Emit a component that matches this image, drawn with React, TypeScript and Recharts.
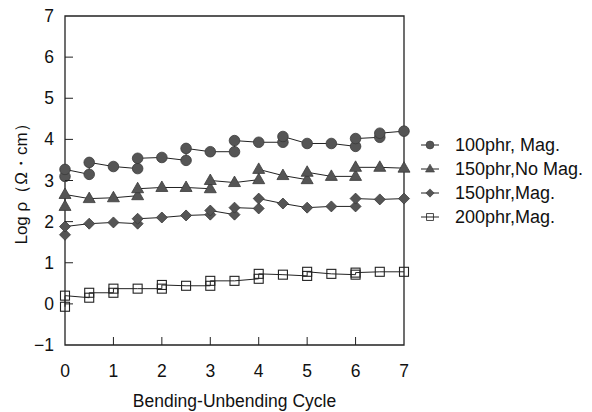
import React from 'react';
import { LineChart, Line, XAxis, YAxis, ReferenceArea, Legend } from 'recharts';

// cycle positions and log resistivity (jumps shown as two points at one x)
const mag100X = [0, 0, 0.5, 0.5, 1, 1.5, 1.5, 2, 2.5, 2.5, 3, 3.5, 3.5, 4, 4.5, 4.5, 5, 5.5, 6, 6, 6.5, 6.5, 7];
const mag100Y = [3.1, 3.27, 3.15, 3.44, 3.34, 3.29, 3.54, 3.56, 3.49, 3.78, 3.7, 3.7, 3.97, 3.93, 3.93, 4.07, 3.9, 3.9, 3.83, 4.02, 4.05, 4.15, 4.2];

const noMag150X = [0, 0, 0.5, 1, 1.5, 1.5, 2, 2.5, 3, 3, 3.5, 4, 4, 4.5, 5, 5, 5.5, 6, 6, 6.5, 7];
const noMag150Y = [2.37, 2.66, 2.56, 2.58, 2.63, 2.8, 2.83, 2.83, 2.8, 3.0, 2.95, 3.02, 3.27, 3.12, 3.02, 3.2, 3.1, 3.1, 3.32, 3.32, 3.3];

const mag150X = [0, 0, 0.5, 1, 1.5, 1.5, 2, 2.5, 3, 3, 3.5, 3.5, 4, 4, 4.5, 5, 5.5, 6, 6, 6.5, 7];
const mag150Y = [1.68, 1.88, 1.95, 1.98, 1.95, 2.07, 2.1, 2.15, 2.17, 2.27, 2.17, 2.34, 2.32, 2.56, 2.44, 2.34, 2.37, 2.37, 2.56, 2.54, 2.56];

const mag200X = [0, 0, 0.5, 0.5, 1, 1, 1.5, 2, 2, 2.5, 3, 3, 3.5, 4, 4, 4.5, 5, 5, 5.5, 6, 6, 6.5, 7];
const mag200Y = [-0.07, 0.2, 0.15, 0.27, 0.27, 0.37, 0.37, 0.37, 0.46, 0.44, 0.44, 0.56, 0.56, 0.61, 0.73, 0.71, 0.68, 0.78, 0.73, 0.71, 0.76, 0.78, 0.78];

const seriesNames = ['100phr, Mag.', '150phr,No Mag.', '150phr,Mag.', '200phr,Mag.'];
const xTicks = [0, 1, 2, 3, 4, 5, 6, 7];
const yTicks = [-1, 0, 1, 2, 3, 4, 5, 6, 7];

const toPoints = (xs: number[], ys: number[]) => xs.map((x, i) => ({ x, y: ys[i] }));

const PLOT_LEFT = 65;
const PLOT_BOTTOM = 345;
const INK = '#222';
const MARK = '#555';
const FONT = '"Liberation Sans", Arial, sans-serif';

type Shape = 'circle' | 'triangle' | 'diamond' | 'square';

const Marker = ({ cx, cy, shape }: { cx: number; cy: number; shape: Shape }) => {
  if (shape === 'circle') return <circle cx={cx} cy={cy} r={5.3} fill={MARK} stroke="#3a3a3a" strokeWidth={0.8} />;
  if (shape === 'triangle')
    return <polygon points={`${cx},${cy - 6.5} ${cx + 6},${cy + 4} ${cx - 6},${cy + 4}`} fill={MARK} stroke="#3a3a3a" strokeWidth={0.8} />;
  if (shape === 'diamond')
    return <polygon points={`${cx},${cy - 5.5} ${cx + 5.5},${cy} ${cx},${cy + 5.5} ${cx - 5.5},${cy}`} fill={MARK} stroke="#3a3a3a" strokeWidth={0.8} />;
  return <rect x={cx - 4.5} y={cy - 4.5} width={9} height={9} fill="none" stroke={INK} strokeWidth={1.1} />;
};

const dotOf = (shape: Shape) => (props: any) => {
  if (props.cx == null || props.cy == null) return <g key={props.index} />;
  return <Marker key={props.index} cx={props.cx} cy={props.cy} shape={shape} />;
};

const YTick = (props: any) => {
  const { y, payload } = props;
  const v = payload.value;
  return (
    <g>
      {v > -1 && v < 7 && <line x1={PLOT_LEFT} x2={PLOT_LEFT + 8} y1={y} y2={y} stroke={INK} strokeWidth={1} />}
      <text x={PLOT_LEFT - 11} y={y} dy={6} textAnchor="end" fontSize={17.5} fontFamily={FONT} fill="#111">
        {String(v).replace('-', '\u2212')}
      </text>
    </g>
  );
};

const XTick = (props: any) => {
  const { x, payload } = props;
  const v = payload.value;
  return (
    <g>
      {v > 0 && v < 7 && <line x1={x} x2={x} y1={PLOT_BOTTOM} y2={PLOT_BOTTOM - 8} stroke={INK} strokeWidth={1} />}
      <text x={x} y={377} textAnchor="middle" fontSize={17.5} fontFamily={FONT} fill="#111">
        {v}
      </text>
    </g>
  );
};

const YTitle = () => (
  <text transform="translate(27,180) rotate(-90)" textAnchor="middle" fontSize={17} fontFamily={FONT} fill="#111">
    Log ρ（Ω・cm）
  </text>
);

const shapes: Shape[] = ['circle', 'triangle', 'diamond', 'square'];

const LegendBox = () => (
  <div style={{ fontFamily: FONT, fontSize: 18, color: '#111' }}>
    {seriesNames.map((name, i) => (
      <div key={name} style={{ display: 'flex', alignItems: 'center', height: 24 }}>
        <svg width={28} height={16} style={{ marginRight: 7 }}>
          <line x1={1} x2={19} y1={8} y2={8} stroke={INK} strokeWidth={1} />
          <g transform="translate(10,8) scale(0.75) translate(-10,-8)">
            <Marker cx={10} cy={8} shape={shapes[i]} />
          </g>
        </svg>
        <span>{name}</span>
      </div>
    ))}
  </div>
);

export default function App() {
  const sets = [
    toPoints(mag100X, mag100Y),
    toPoints(noMag150X, noMag150Y),
    toPoints(mag150X, mag150Y),
    toPoints(mag200X, mag200Y),
  ];
  return (
    <div style={{ position: 'absolute', left: 0, top: 0, background: '#fff' }}>
      <LineChart width={592} height={412} margin={{ top: 16, right: 188, bottom: 0, left: 0 }}>
        <XAxis
          dataKey="x"
          type="number"
          domain={[0, 7]}
          ticks={xTicks}
          axisLine={false}
          tickLine={false}
          tick={<XTick />}
          height={67}
          label={{ value: 'Bending-Unbending Cycle', position: 'insideBottom', offset: 5, fontSize: 17.5, fontFamily: FONT, fill: '#111' }}
        />
        <YAxis
          type="number"
          domain={[-1, 7]}
          ticks={yTicks}
          axisLine={false}
          tickLine={false}
          tick={<YTick />}
          width={65}
          label={<YTitle />}
        />
        <ReferenceArea x1={0} x2={7} y1={-1} y2={7} fill="none" stroke={INK} strokeWidth={1.3} />
        {sets.map((data, i) => (
          <Line
            key={seriesNames[i]}
            data={data}
            dataKey="y"
            name={seriesNames[i]}
            stroke={INK}
            strokeWidth={1}
            dot={dotOf(shapes[i])}
            activeDot={false}
            isAnimationActive={false}
          />
        ))}
        <Legend
          layout="horizontal"
          verticalAlign="middle"
          content={() => <LegendBox />}
          wrapperStyle={{ left: 420, top: 133, width: 175 }}
        />
      </LineChart>
    </div>
  );
}
